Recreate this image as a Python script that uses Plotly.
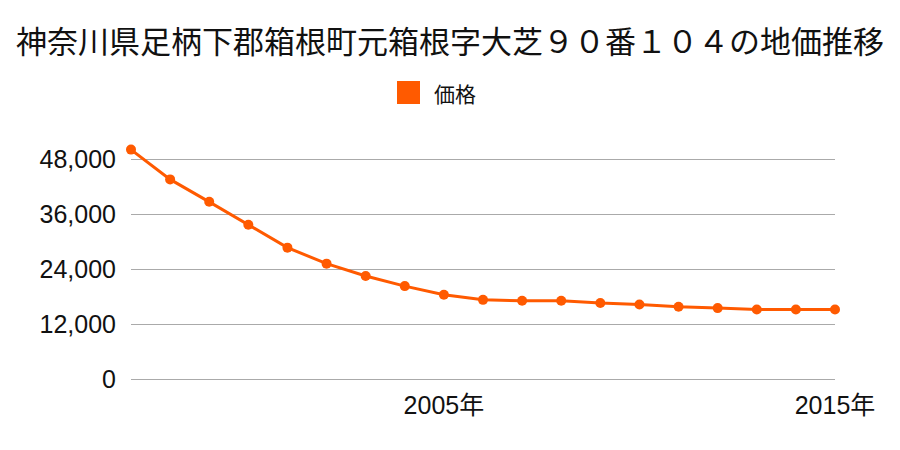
import plotly.graph_objects as go

title_text = "神奈川県足柄下郡箱根町元箱根字大芝９０番１０４の地価推移"
series_name = "価格"
years = list(range(1997, 2016))
prices = [50200, 43700, 38800, 33800, 28800, 25300, 22600, 20400, 18500,
          17400, 17200, 17200, 16700, 16400, 15900, 15600, 15300, 15300, 15300]
x_tick_vals = [2005, 2015]
x_tick_text = ["2005年", "2015年"]
y_tick_vals = [0, 12000, 24000, 36000, 48000]

color = "#ff5a00"
font_family = "Liberation Sans, Noto Sans CJK JP, sans-serif"
cjk_family = "Noto Sans CJK JP, sans-serif"

# page body has an 8px margin, so the figure is sized/offset to compensate
OFF = 8
W, H = 900 - OFF, 450 - OFF
PL, PR, PT, PB = 131, 835, 140, 380  # target plot-area edges in window pixels

fig = go.Figure()
fig.add_trace(go.Scatter(
    x=years, y=prices, mode="lines+markers", name=series_name,
    line=dict(color=color, width=3),
    marker=dict(color=color, size=10),
    showlegend=False, cliponaxis=False,
))

pw, ph = PR - PL, PB - PT
fig.add_shape(type="rect", xref="paper", yref="paper",
              x0=(397 - PL) / pw, x1=(420 - PL) / pw,
              y0=(PB - 104) / ph, y1=(PB - 81) / ph,
              fillcolor=color, line=dict(width=0))
fig.add_annotation(text=series_name, xref="paper", yref="paper",
                   x=(432 - PL) / pw, y=(PB - 93) / ph,
                   xanchor="left", yanchor="middle", showarrow=False,
                   font=dict(family=cjk_family, size=21, color="#111111"))

fig.update_layout(
    width=W, height=H,
    margin=dict(l=PL - OFF, r=W - (PR - OFF), t=PT - OFF, b=H - (PB - OFF), pad=0),
    paper_bgcolor="white", plot_bgcolor="white",
    font=dict(family=font_family, color="#111111"),
    title=dict(text=title_text, x=(450 - OFF) / W, xanchor="center",
               y=1 - (42 - OFF) / H, yanchor="middle",
               automargin=False,
               font=dict(family=cjk_family, size=31, color="#111111")),
    showlegend=False,
    xaxis=dict(range=[1997, 2015], tickvals=x_tick_vals, ticktext=x_tick_text,
               showgrid=False, zeroline=False, showline=False, ticks="",
               automargin=False,
               tickfont=dict(size=25), ticklabelstandoff=8),
    yaxis=dict(range=[-100, 52300], tickvals=y_tick_vals, tickformat=",d",
               showgrid=True, gridcolor="#aaaaaa", gridwidth=1,
               zeroline=True, zerolinecolor="#aaaaaa", zerolinewidth=1,
               showline=False, ticks="", automargin=False,
               tickfont=dict(size=25), ticklabelstandoff=14),
)

fig.write_html("out.html")
